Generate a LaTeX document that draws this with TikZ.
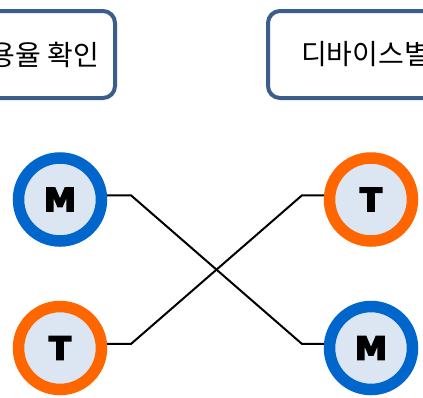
\documentclass[tikz,border=0pt]{standalone}
\usepackage{fontspec}
\usepackage{xcolor}
\usepackage{tikz}
\usetikzlibrary{shapes,arrows}
\newfontfamily\kofont{Noto Sans CJK KR}
\newfontfamily\capfont{DejaVu Sans}
\definecolor{boxline}{rgb}{0.231, 0.365, 0.549}
\definecolor{mblue}{rgb}{0, 0.4, 0.8}
\definecolor{torange}{rgb}{1, 0.4, 0}
\definecolor{disc}{rgb}{0.863, 0.902, 0.949}
\tikzstyle{titlebox}=[rectangle,rounded corners=12pt,draw=boxline,line width=4pt,fill=white,minimum height=87pt,inner sep=0pt,font=\kofont\fontsize{28}{32}\selectfont]
\tikzstyle{mnode}=[circle,draw=mblue,line width=11.5pt,fill=disc,minimum size=83pt,inner sep=0pt,font=\capfont\bfseries\fontsize{32}{36}\selectfont]
\tikzstyle{tnode}=[mnode,draw=torange]
\tikzstyle{wire}=[line width=2pt,black]
\newcommand{\heavy}[1]{\special{pdf:literal 2 Tr 1.6 w}#1\special{pdf:literal 0 Tr}}

\begin{document}
\begin{tikzpicture}[x=1pt,y=-1pt]
\useasboundingbox (0,0) rectangle (423,397);
\clip (0,0) rectangle (423,397);
  \node[titlebox,minimum width=167pt] (rate) at (31.5,54.5) {사용율 확인};
  \node[titlebox,minimum width=195pt] (device) at (365.5,54.5) {디바이스별};
  \node[mnode] (m1) at (60,199.5) {\heavy{M}};
  \node[tnode] (t1) at (60,348) {\heavy{T}};
  \node[tnode] (t2) at (371,199.5) {\heavy{T}};
  \node[mnode] (m2) at (371,348) {\heavy{M}};
  \draw[wire]
    (m1.5)
     -- ++(24,0)
     -- ([xshift=-22pt]m2.175)
     -- (m2.175);
  \draw[wire]
    (t1.5)
     -- ++(24,0)
     -- ([xshift=-22pt]t2.175)
     -- (t2.175);
\end{tikzpicture}
\end{document}
